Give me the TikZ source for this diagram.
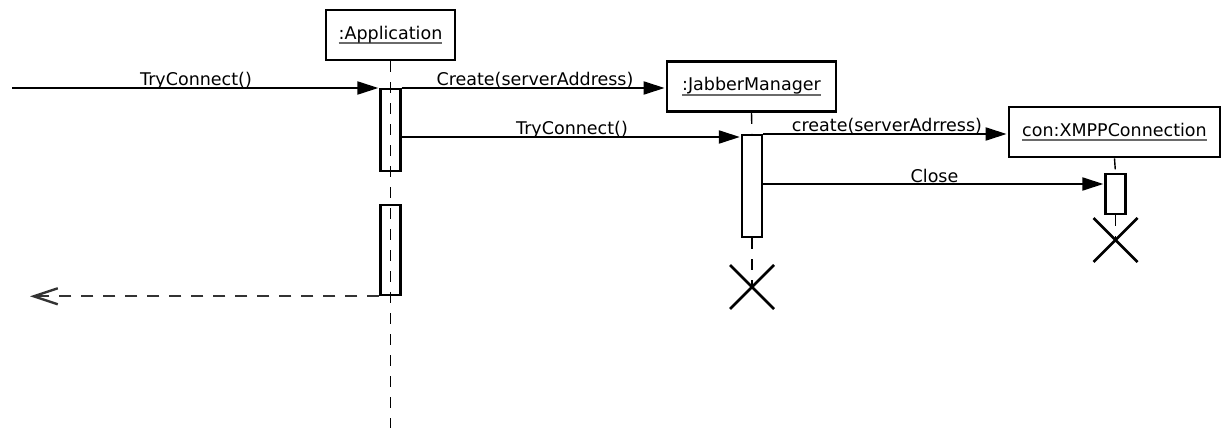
\documentclass[tikz,border=0pt]{standalone}
\usepackage{fontspec}
\setmainfont{DejaVu Sans}
\usetikzlibrary{arrows.meta,calc}

% underlined object name, rule drawn in grey below the baseline
\newcommand\objname[1]{\setbox0\hbox{#1}\rlap{\color{ulgray}\rule[-5pt]{\wd0}{1.8pt}}\box0}
\definecolor{ulgray}{HTML}{6A6A6A}
\definecolor{retgray}{HTML}{333333}

\begin{document}
\begin{tikzpicture}[x=1pt,y=-1pt,
  every node/.style={font=\fontsize{17.5}{20}\selectfont, inner sep=0pt},
  objbox/.style={draw, line width=2.8pt, fill=white, minimum height=50pt},
  actbox/.style={draw, line width=2.3pt, fill=white, minimum width=20pt},
  lifeline/.style={line width=1.4pt, dash pattern=on 11pt off 10pt},
  msg/.style={line width=2pt, -{Triangle[length=21pt,width=13pt]}, shorten >=1pt},
  ret/.style={line width=2.2pt, retgray, dash pattern=on 12pt off 10pt,
    -{Straight Barb[length=24pt,width=16pt,line width=2.4pt]}},
  msglabel/.style={anchor=base},
  destroy/.style={line width=2.8pt}
]
\useasboundingbox (0,0) rectangle (1221,428);

% objects
\node[objbox, minimum width=129pt] (app) at (390.5,35) {\objname{:Application}};
\node[objbox, minimum width=169pt] (jab) at (751.5,86.5) {\objname{:JabberManager}};
\node[objbox, minimum width=211pt] (con) at (1114.5,132) {\objname{con:XMPPConnection}};

% activation bars
\node[actbox, minimum height=82pt, anchor=north] (appA1) at (390.5,88) {};
\node[actbox, minimum height=90pt, anchor=north] (appA2) at (390.5,204) {};
\node[actbox, minimum height=102pt, anchor=north] (jabA) at (752,134) {};
\node[actbox, minimum width=20pt, minimum height=40pt, anchor=north] (conA) at (1115.5,173) {};

% lifelines
\coordinate (appEnd) at (390.5,428);
\coordinate (jabEnd) at (752,287);
\coordinate (conEnd) at (1115.5,240);
\draw[lifeline] (app.south) -- (appEnd);
\draw[lifeline] (jab.south) -- (jabA.north);
\draw[lifeline] (jabA.south) -- (jabEnd);
\draw[lifeline] (con.south) -- (conA.north);
\draw[lifeline] (conA.south) -- (conEnd);

% destruction marks
\draw[destroy] ($(jabEnd)+(-22,-22)$) -- ($(jabEnd)+(22,22)$)
               ($(jabEnd)+(22,-22)$) -- ($(jabEnd)+(-22,22)$);
\draw[destroy] ($(conEnd)+(-22,-22)$) -- ($(conEnd)+(22,22)$)
               ($(conEnd)+(22,-22)$) -- ($(conEnd)+(-22,22)$);

% messages
\coordinate (start) at (12,88);
\coordinate (back) at (30,293);
\draw[msg] (start) -- (appA1.north west);
\node[msglabel] (lTry1) at (196,85.5) {TryConnect()};

\draw[msg] (appA1.north east) -- (jab.west |- appA1.north east);
\node[msglabel] (lCreate) at (535,85) {Create(serverAddress)};

\draw[msg] (appA1.east |- 0,137) -- (jabA.west |- 0,137);
\node[msglabel] (lTry2) at (572,134.5) {TryConnect()};

\draw[msg] (jabA.north east) -- (con.west |- jabA.north east);
\node[msglabel] (lcreate) at (887,131.5) {create(serverAdrress)};

\draw[msg] (jabA.east |- 0,184) -- (conA.west |- 0,184);
\node[msglabel] (lClose) at (934.5,182) {Close};

\draw[ret] (appA2.south west) -- (back |- appA2.south west);
\end{tikzpicture}
\end{document}
